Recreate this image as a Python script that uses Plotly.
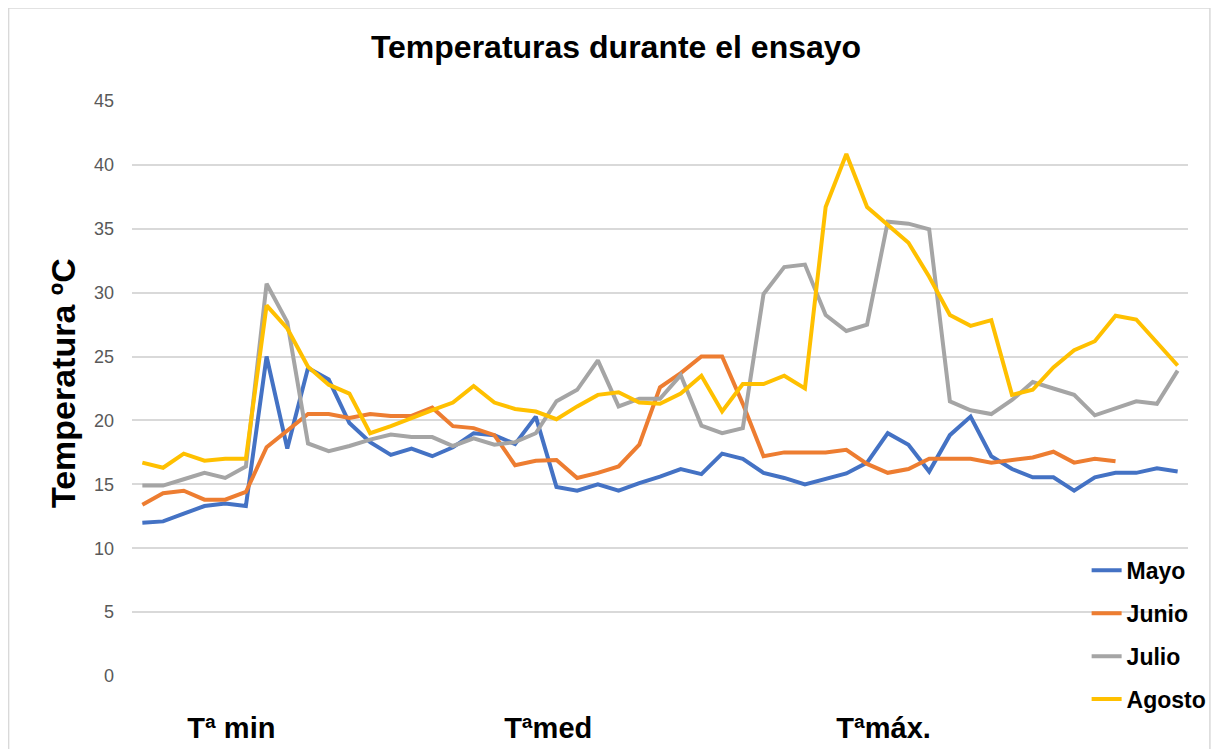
import plotly.graph_objects as go

MESES = ['Mayo', 'Junio', 'Julio', 'Agosto']
COLORES = ['#4472C4', '#ED7D31', '#A5A5A5', '#FFC000']

# 51 puntos consecutivos (Tª min, Tª med, Tª máx)
mayo = [12.0, 12.1, 12.7, 13.3, 13.5, 13.3, 25.0, 17.8, 24.1, 23.2,
        19.8, 18.3, 17.3, 17.8, 17.2, 17.9, 19.0, 18.85, 18.15, 20.3,
        14.8, 14.5, 15.0, 14.5, 15.1, 15.6, 16.2, 15.8, 17.4, 17.0,
        15.9, 15.5, 15.0, 15.4, 15.85, 16.7, 19.0, 18.1, 16.0, 18.85,
        20.3, 17.2, 16.2, 15.55, 15.55, 14.5, 15.55, 15.9, 15.9, 16.25, 16.0]
junio = [13.4, 14.3, 14.5, 13.8, 13.8, 14.4, 17.9, 19.2, 20.5, 20.5,
         20.2, 20.5, 20.35, 20.35, 21.0, 19.55, 19.4, 18.85, 16.5, 16.85,
         16.9, 15.5, 15.9, 16.4, 18.1, 22.6, 23.7, 25.0, 25.0, 21.3,
         17.2, 17.5, 17.5, 17.5, 17.7, 16.6, 15.9, 16.2, 17.0, 17.0,
         17.0, 16.7, 16.9, 17.1, 17.55, 16.7, 17.0, 16.8, None, None, None]
julio = [14.9, 14.9, 15.4, 15.9, 15.5, 16.4, 30.7, 27.7, 18.2, 17.6,
         18.0, 18.5, 18.9, 18.7, 18.7, 18.0, 18.6, 18.1, 18.3, 19.0,
         21.5, 22.4, 24.7, 21.1, 21.7, 21.7, 23.55, 19.6, 19.0, 19.4,
         29.9, 32.0, 32.2, 28.25, 27.0, 27.5, 35.55, 35.4, 34.95, 21.5,
         20.8, 20.5, 21.6, 23.0, 22.5, 22.0, 20.4, 20.95, 21.5, 21.3, 23.9]
agosto = [16.7, 16.3, 17.4, 16.85, 17.0, 17.0, 29.0, 27.2, 24.2, 22.8,
          22.1, 19.0, 19.55, 20.2, 20.8, 21.4, 22.7, 21.4, 20.9, 20.7,
          20.1, 21.1, 22.0, 22.2, 21.4, 21.3, 22.1, 23.5, 20.7, 22.85,
          22.85, 23.5, 22.5, 36.7, 40.85, 36.7, 35.3, 33.9, 31.25, 28.25,
          27.4, 27.85, 22.0, 22.4, 24.15, 25.5, 26.2, 28.2, 27.9, 26.1, 24.3]

ETIQUETAS = ['Tª min', 'Tªmed', 'Tªmáx.']

series = [mayo, junio, julio, agosto]
x = list(range(len(mayo)))

fig = go.Figure()
for i, (nombre, vals) in enumerate(zip(MESES, series)):
    fig.add_trace(go.Scatter(x=x, y=vals, name=f'<b>{nombre}</b>', mode='lines',
                             legendgroup=nombre,
                             line=dict(color=COLORES[i], width=4)))

FONT = 'Liberation Sans, Arial, sans-serif'

# la página añade 8px de margen al cuerpo, por eso 1216x741
fig.update_layout(
    width=1216, height=741,
    paper_bgcolor='white', plot_bgcolor='white',
    margin=dict(l=124, r=31, t=93, b=73),
    font=dict(family=FONT),
    title=dict(text='<b>Temperaturas durante el ensayo</b>',
               font=dict(size=32, color='black', family=FONT),
               x=0.5, xref='container', xanchor='center',
               y=1 - 39 / 741, yref='container', yanchor='middle'),
    legend=dict(x=0.904, xanchor='left', y=0.221, yanchor='top',
                font=dict(size=23, color='black', family=FONT),
                traceorder='grouped', tracegroupgap=10,
                bgcolor='rgba(0,0,0,0)'),
    showlegend=True,
)

fig.update_xaxes(range=[-0.5, 50.5], showgrid=False, zeroline=False,
                 showline=False, ticks='', automargin=False,
                 tickvals=[4.3, 19.6, 35.8], ticktext=[f'<b>{t}</b>' for t in ETIQUETAS],
                 tickfont=dict(size=29, color='black', family=FONT),
                 ticklabelstandoff=32)
fig.update_yaxes(range=[0, 45], dtick=5, showgrid=True, gridcolor='#d9d9d9',
                 gridwidth=1.5, zeroline=False, showline=False, automargin=False,
                 tickfont=dict(size=18, color='#595959', family=FONT),
                 ticklabelstandoff=17)

fig.add_annotation(text='<b>Temperatura ºC</b>', textangle=-90,
                   xref='paper', yref='paper', x=(62 - 132) / 1061, y=0.51,
                   xanchor='center', yanchor='middle', showarrow=False,
                   font=dict(size=34, color='black', family=FONT))

# marco del gráfico
fig.add_shape(type='rect', xref='paper', yref='paper',
              x0=-124 / 1061, x1=(1207 - 124) / 1061,
              y0=-90 / 575, y1=668 / 575,
              line=dict(color='#d9d9d9', width=1.5), layer='below')

fig.write_html('out.html')
